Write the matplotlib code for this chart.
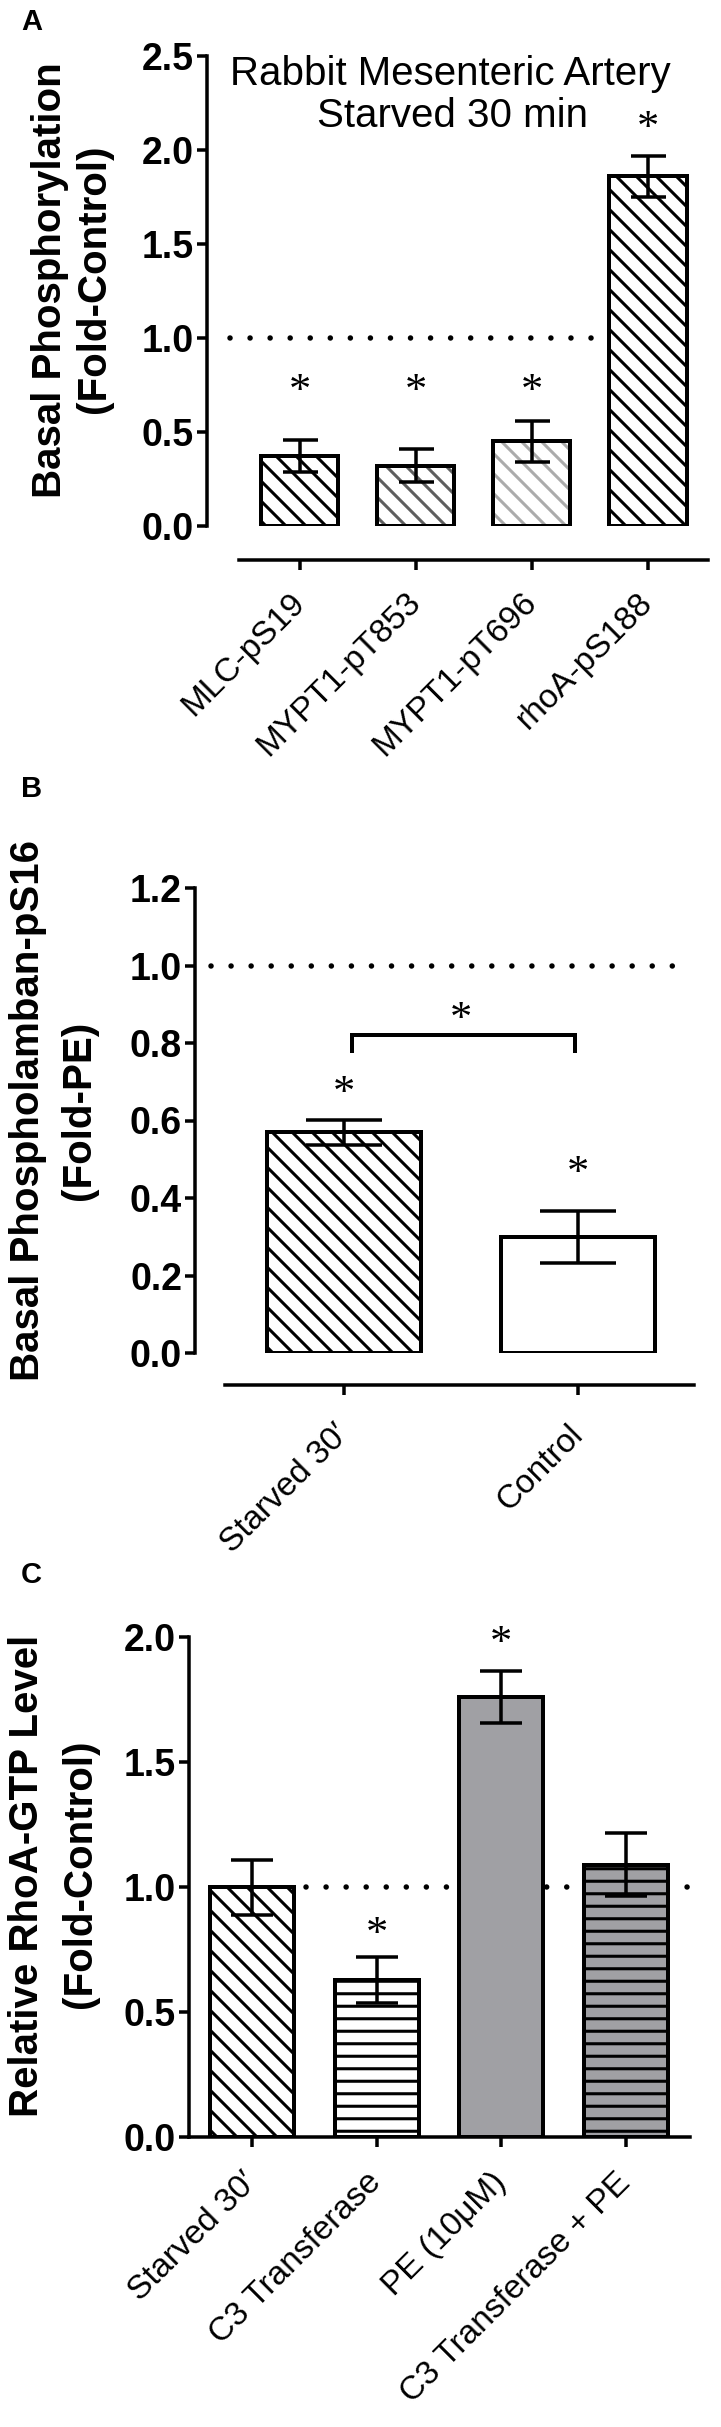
import matplotlib
matplotlib.use("Agg")
import matplotlib.pyplot as plt
import matplotlib.hatch as mhatch
import numpy as np

W, H, DPI = 721, 2427, 100


def p(px):
    return px * 72.0 / DPI


# ---------------- data ----------------
a_labels = ["MLC-pS19", "MYPT1-pT853", "MYPT1-pT696", "rhoA-pS188"]
a_means = [0.37, 0.32, 0.45, 1.86]
a_errs = [0.085, 0.088, 0.11, 0.11]
a_stars = [0.75, 0.75, 0.75, 2.15]
a_yticks = [0.0, 0.5, 1.0, 1.5, 2.0, 2.5]

b_labels = ["Starved 30\u2032", "Control"]
b_means = [0.57, 0.30]
b_errs = [0.032, 0.067]
b_stars = [0.686, 0.48]
b_bracket = 0.82
b_bracket_drop = 0.04
b_bracket_star = 0.877
b_yticks = [0.0, 0.2, 0.4, 0.6, 0.8, 1.0, 1.2]

c_labels = ["Starved 30\u2032", "C3 Transferase", "PE (10\u03bcM)", "C3 Transferase + PE"]
c_means = [1.0, 0.63, 1.76, 1.09]
c_errs = [0.11, 0.092, 0.104, 0.126]
c_stars = [None, 0.836, 2.0, None]
c_yticks = [0.0, 0.5, 1.0, 1.5, 2.0]

ref_level = 1.0

# ---------------- style ----------------
plt.rcParams["font.family"] = ["Liberation Sans", "DejaVu Sans"]
plt.rcParams["hatch.linewidth"] = 2.2
GRAY = "#a0a0a4"


class _DenseHorizontalHatch(mhatch.HorizontalHatch):
    def __init__(self, hatch, density):
        super().__init__(hatch, density * 4.0 / 3.0)


class _DenseSouthEastHatch(mhatch.SouthEastHatch):
    def __init__(self, hatch, density):
        super().__init__(hatch, density * 5.0 / 3.0)


_swap = {mhatch.HorizontalHatch: _DenseHorizontalHatch,
         mhatch.SouthEastHatch: _DenseSouthEastHatch}
mhatch._hatch_types = [_swap.get(t, t) for t in mhatch._hatch_types]

fig = plt.figure(figsize=(W / DPI, H / DPI), dpi=DPI)
fig.patch.set_facecolor("white")


def add_ax(l, r, t, b):
    return fig.add_axes([l / W, 1 - b / H, (r - l) / W, (b - t) / H])


def style_axes(ax, yticks, ylim, xlim, labels, label_pad_px, cap_px, means, errs,
               fills, hatches, hcolors, width, offset_px=None, bounds=None):
    x = np.arange(len(means))
    ax.set_xlim(*xlim)
    ax.set_ylim(*ylim)
    for s in ["top", "right"]:
        ax.spines[s].set_visible(False)
    for s in ["left", "bottom"]:
        ax.spines[s].set_linewidth(p(3.5))
        ax.spines[s].set_capstyle("projecting")
    if offset_px is not None:
        ax.spines["bottom"].set_position(("outward", p(offset_px)))
    if bounds is not None:
        ax.spines["bottom"].set_bounds(*bounds)
    ax.set_yticks(yticks, labels=["%.1f" % v for v in yticks], fontweight="bold")
    ax.tick_params(axis="y", length=p(10), width=p(3.5), direction="out",
                   labelsize=27, pad=p(3))
    ax.set_xticks(x, labels=labels, rotation=45, ha="right", va="center",
                  rotation_mode="anchor")
    ax.tick_params(axis="x", length=p(10), width=p(3.5), direction="out",
                   labelsize=24, pad=p(label_pad_px))
    for i in range(len(means)):
        ax.bar(x[i], means[i], width, color=fills[i], edgecolor=hcolors[i],
               linewidth=0, hatch=hatches[i], zorder=2)
        ax.bar(x[i], means[i], width, fill=False, edgecolor="black",
               linewidth=p(4), zorder=2.5)
    ax.errorbar(x, means, yerr=errs, fmt="none", ecolor="black",
                elinewidth=p(3.5), capsize=p(cap_px / 2), capthick=p(3.5), zorder=3)
    ax.set_facecolor("none")
    return x


def dotted(ax, x0, x1):
    ax.plot([x0, x1], [ref_level, ref_level], color="black", lw=p(5.5),
            linestyle=(0, (0.01, 20.0 / 5.5)), dash_capstyle="round", zorder=1)


def star(ax, xv, yv):
    ax.annotate("*", xy=(xv, yv), xytext=(0, -5), textcoords="offset points",
                ha="center", va="center", fontsize=32, family="Liberation Serif",
                zorder=4, annotation_clip=False)


def ylab(x_px, y_px, s):
    fig.text(x_px / W, 1 - y_px / H, s, rotation=90, ha="center", va="center",
             fontsize=29, fontweight="bold")


def letter(y_px, s):
    fig.text(21 / W, 1 - y_px / H, s, ha="left", va="baseline",
             fontsize=21, fontweight="bold")


# ---------------- Panel A ----------------
axA = add_ax(207, 708, 56, 526)
xa = style_axes(axA, a_yticks, (0, 2.5), (-0.80, 3.517), a_labels, 28, 35,
                a_means, a_errs, ["white"] * 4, ["\\", "\\", "\\", "\\"],
                ["black", "#5e5e5e", "#ababab", "black"], 0.664,
                offset_px=34, bounds=(-0.526, 3.517))
dotted(axA, -0.603, 3.362)
for xi, sv in zip(xa, a_stars):
    star(axA, xi, sv)
fig.text(450 / W, 1 - 74 / H, "Rabbit Mesenteric Artery", ha="center", va="center",
         fontsize=29)
fig.text(452 / W, 1 - 116 / H, "Starved 30 min", ha="center", va="center",
         fontsize=29)
ylab(50, 280, "Basal Phosphorylation")
ylab(94, 279, "(Fold-Control)")
letter(30, "A")

# ---------------- Panel B ----------------
axB = add_ax(195, 694, 888, 1353)
xb = style_axes(axB, b_yticks, (0, 1.2), (-0.637, 1.496), b_labels, 35, 76,
                b_means, b_errs, ["white", "white"], ["\\", None],
                ["black", "black"], 0.658, offset_px=32, bounds=(-0.509, 1.496))
dotted(axB, -0.569, 1.479)
for xi, sv in zip(xb, b_stars):
    star(axB, xi, sv)
axB.plot([xb[0] + 0.034, xb[0] + 0.034, xb[1] - 0.013, xb[1] - 0.013],
         [b_bracket - b_bracket_drop, b_bracket, b_bracket, b_bracket - b_bracket_drop],
         color="black", lw=p(4), solid_joinstyle="miter", zorder=3)
star(axB, (xb[0] + xb[1]) / 2, b_bracket_star)
ylab(28, 1111, "Basal Phospholamban-pS16")
ylab(79, 1110, "(Fold-PE)")
letter(797, "B")

# ---------------- Panel C ----------------
axC = add_ax(188.5, 690, 1637, 2137)
xc = style_axes(axC, c_yticks, (0, 2.0), (-0.509, 3.513), c_labels, 31, 42,
                c_means, c_errs, ["white", "white", GRAY, GRAY],
                ["\\", "-", None, "-"], ["black", "black", "black", "black"], 0.674)
dotted(axC, 0.433, 3.513)
for xi, sv in zip(xc, c_stars):
    if sv is not None:
        star(axC, xi, sv)
ylab(27, 1876, "Relative RhoA-GTP Level")
ylab(80, 1874, "(Fold-Control)")
letter(1583, "C")

fig.savefig("out.png", dpi=DPI)
